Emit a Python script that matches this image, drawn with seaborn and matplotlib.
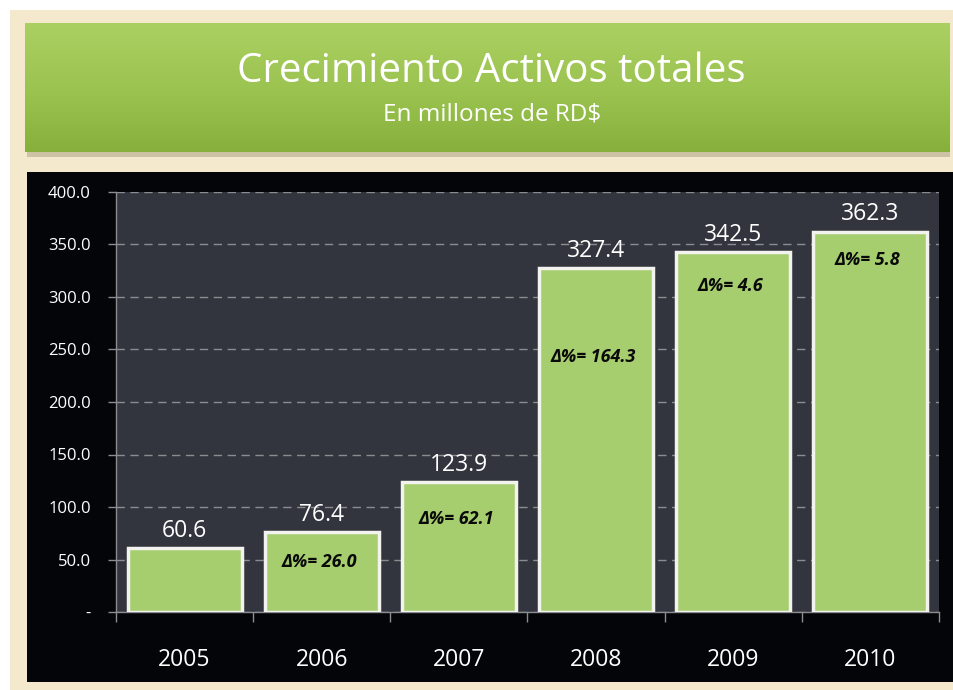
import numpy as np
import pandas as pd
import matplotlib
matplotlib.use("Agg")
import matplotlib.pyplot as plt
from matplotlib.patches import Rectangle
from matplotlib.ticker import FixedLocator, FuncFormatter
from matplotlib.colors import LinearSegmentedColormap
import seaborn as sns

# ---- data ----
years = ["2005", "2006", "2007", "2008", "2009", "2010"]
activos = [60.6, 76.4, 123.9, 327.4, 342.5, 362.3]
delta_labels = ["", "Δ%= 26.0", "Δ%= 62.1", "Δ%= 164.3", "Δ%= 4.6", "Δ%= 5.8"]
delta_label_y = [0, 47.6, 88.6, 242.9, 310.5, 335.0]
title = "Crecimiento Activos totales"
subtitle = "En millones de RD$"
y_ticks = [0, 50, 100, 150, 200, 250, 300, 350, 400]

sns.set_theme(style="dark")
FONT = ["Open Sans", "DejaVu Sans"]
plt.rcParams["font.family"] = FONT

W, H = 954, 690
fig = plt.figure(figsize=(W / 100, H / 100), dpi=100, facecolor="white")

def fx(px):
    return px / W

def fy(py):
    return 1 - py / H

# beige parchment background
fig.patches.append(Rectangle((fx(10), 0), 1 - fx(10), fy(10), transform=fig.transFigure,
                             facecolor="#f4e8cd", edgecolor="none", zorder=0))

# title box shadow + gradient green box
fig.patches.append(Rectangle((fx(27), fy(157)), fx(950) - fx(27), fy(27) - fy(157),
                             transform=fig.transFigure, facecolor="#b3a98a",
                             edgecolor="none", zorder=1, alpha=0.6))
tax = fig.add_axes([fx(25), fy(152), fx(950) - fx(25), fy(23) - fy(152)], zorder=2)
grad = np.linspace(0, 1, 256).reshape(-1, 1)
cm = LinearSegmentedColormap.from_list("g", ["#abd062", "#9cc451", "#86b03b"])
tax.imshow(grad, aspect="auto", cmap=cm, extent=[0, 1, 0, 1], origin="upper")
tax.set_xlim(0, 1)
tax.set_ylim(0, 1)
tax.axis("off")
fig.text(fx(491), fy(72), title, color="white", fontsize=29, ha="center", va="center",
         family=FONT, zorder=5)
fig.text(fx(492), fy(115), subtitle, color="white", fontsize=17.5, ha="center", va="center",
         family=FONT, zorder=5)

# black chart panel
fig.patches.append(Rectangle((fx(27), fy(682)), 1 - fx(27), fy(172) - fy(682),
                             transform=fig.transFigure, facecolor="#040509",
                             edgecolor="none", zorder=1))

ax = fig.add_axes([fx(116), fy(612), fx(939) - fx(116), fy(192) - fy(612)], zorder=3)
ax.set_facecolor("#32353d")

df = pd.DataFrame({"year": years, "value": activos})
sns.barplot(data=df, x="year", y="value", color="#a6cd6e", saturation=1,
            edgecolor="#f2f2ee", linewidth=2.5, width=0.83, ax=ax, zorder=3)

ax.set_ylim(0, 400)
ax.set_xlim(-0.5, len(years) - 0.5)
ax.yaxis.set_major_locator(FixedLocator(y_ticks))
ax.yaxis.set_major_formatter(FuncFormatter(lambda v, p: "-" if v == 0 else f"{v:.1f}"))
ax.grid(axis="y", color="#8a8c90", linestyle=(0, (6, 4)), linewidth=1.0, zorder=0)
ax.grid(axis="x", visible=False)
ax.set_axisbelow(True)
ax.set_xlabel("")
ax.set_ylabel("")

ax.tick_params(axis="y", colors="#8a8c90", labelcolor="white", labelsize=12,
               length=6, width=1, pad=12, left=True)
ax.tick_params(axis="x", which="major", length=0, labelcolor="white", labelsize=16.5, pad=26)
ax.set_xticks(np.arange(-0.5, len(years), 1.0), minor=True)
ax.tick_params(axis="x", which="minor", length=7, width=1, color="#8a8c90", bottom=True)
for lab in ax.get_yticklabels() + ax.get_xticklabels():
    lab.set_family(FONT)

for side in ["top", "right"]:
    ax.spines[side].set_visible(False)
for side in ["left", "bottom"]:
    ax.spines[side].set_visible(True)
    ax.spines[side].set_color("#8a8c90")
    ax.spines[side].set_linewidth(1)

for i, v in enumerate(activos):
    ax.text(i, v + 5, f"{v:.1f}", color="white", fontsize=16.5, ha="center", va="bottom",
            family=FONT, zorder=5)
    if delta_labels[i]:
        ax.text(i - 0.02, delta_label_y[i], delta_labels[i], color="#0a0a0a", fontsize=13,
                ha="center", va="center", fontweight="bold", style="italic",
                family=FONT, zorder=5)

fig.savefig("out.png", dpi=100, facecolor=fig.get_facecolor())
